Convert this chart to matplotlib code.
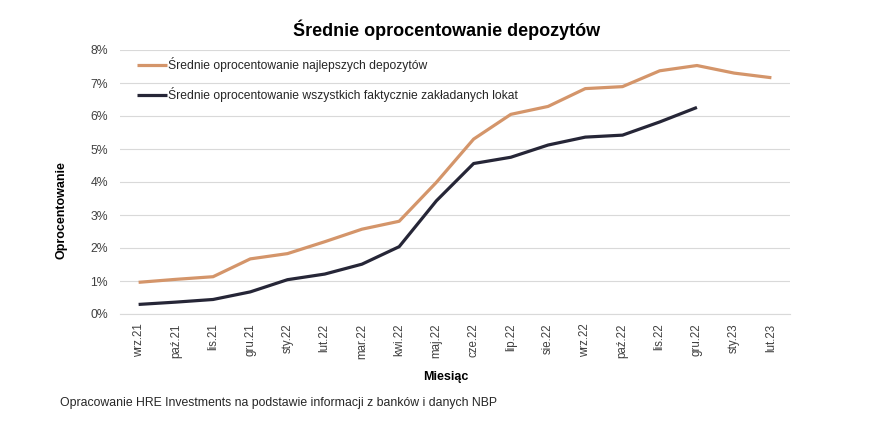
#!/usr/bin/env python3

import matplotlib

matplotlib.use("Agg")
import matplotlib.pyplot as plt
from matplotlib.ticker import FuncFormatter


months = [
    "wrz.21", "paź.21", "lis.21", "gru.21", "sty.22", "lut.22", "mar.22", "kwi.22",
    "maj.22", "cze.22", "lip.22", "sie.22", "wrz.22", "paź.22", "lis.22", "gru.22",
    "sty.23", "lut.23",
]
best_deposits = [
    0.96, 1.05, 1.13, 1.67, 1.83, 2.19, 2.57, 2.81,
    3.99, 5.30, 6.05, 6.29, 6.83, 6.89, 7.37, 7.53,
    7.30, 7.16,
]
all_deposits = [
    0.29, 0.36, 0.44, 0.67, 1.04, 1.21, 1.51, 2.04,
    3.43, 4.56, 4.75, 5.12, 5.36, 5.42, 5.82, 6.26,
]
best_label = "Średnie oprocentowanie najlepszych depozytów"
all_label = "Średnie oprocentowanie wszystkich faktycznie zakładanych lokat"

plt.rcParams["font.family"] = ["Liberation Sans", "DejaVu Sans"]

fig = plt.figure(figsize=(8.78, 4.26), dpi=100)
ax = fig.add_axes([120 / 878, 1 - 314 / 426, 670 / 878, 264 / 426])

x = list(range(len(months)))
ax.plot(x, best_deposits, color="#D4956A", linewidth=2.3, label=best_label,
        solid_joinstyle="round", solid_capstyle="butt")
ax.plot(x[: len(all_deposits)], all_deposits, color="#262637", linewidth=2.3,
        label=all_label, solid_joinstyle="round", solid_capstyle="butt")

ax.set_xlim(-0.5, len(months) - 0.5)
ax.set_ylim(0, 8)
ax.set_yticks(range(0, 9))
ax.yaxis.set_major_formatter(FuncFormatter(lambda v, _: f"{v:.0f}%"))
ax.set_xticks(x)
ax.set_xticklabels(months, rotation=90, fontsize=8.3, color="#404040")
ax.tick_params(axis="y", labelsize=8.8, colors="#404040", length=0, pad=8.5)
ax.tick_params(axis="x", length=0, pad=7)
ax.grid(axis="y", color="#D9D9D9", linewidth=0.8)
ax.set_axisbelow(True)
for side in ("top", "right", "left"):
    ax.spines[side].set_visible(False)
ax.spines["bottom"].set_color("#D9D9D9")
ax.spines["bottom"].set_linewidth(0.8)

leg = ax.legend(loc="upper left", bbox_to_anchor=(0.018, 0.99), frameon=False,
                fontsize=8.7, handlelength=2.5, handletextpad=0.1,
                labelspacing=1.2, borderaxespad=0)
for text in leg.get_texts():
    text.set_color("#262626")

fig.text(447 / 878, 1 - 30 / 426, "Średnie oprocentowanie depozytów",
         ha="center", va="center", fontsize=13, fontweight="bold", color="#000000")
fig.text(446 / 878, 1 - 377 / 426, "Miesiąc", ha="center", va="center",
         fontsize=9, fontweight="bold", color="#000000")
fig.text(62 / 878, 1 - 210 / 426, "Oprocentowanie", ha="center", va="center",
         rotation=90, fontsize=9, fontweight="bold", color="#000000")
fig.text(60 / 878, 1 - 403 / 426,
         "Opracowanie HRE Investments na podstawie informacji z banków i danych NBP",
         ha="left", va="center", fontsize=8.8, color="#262626")

fig.savefig("out.png", dpi=100)
